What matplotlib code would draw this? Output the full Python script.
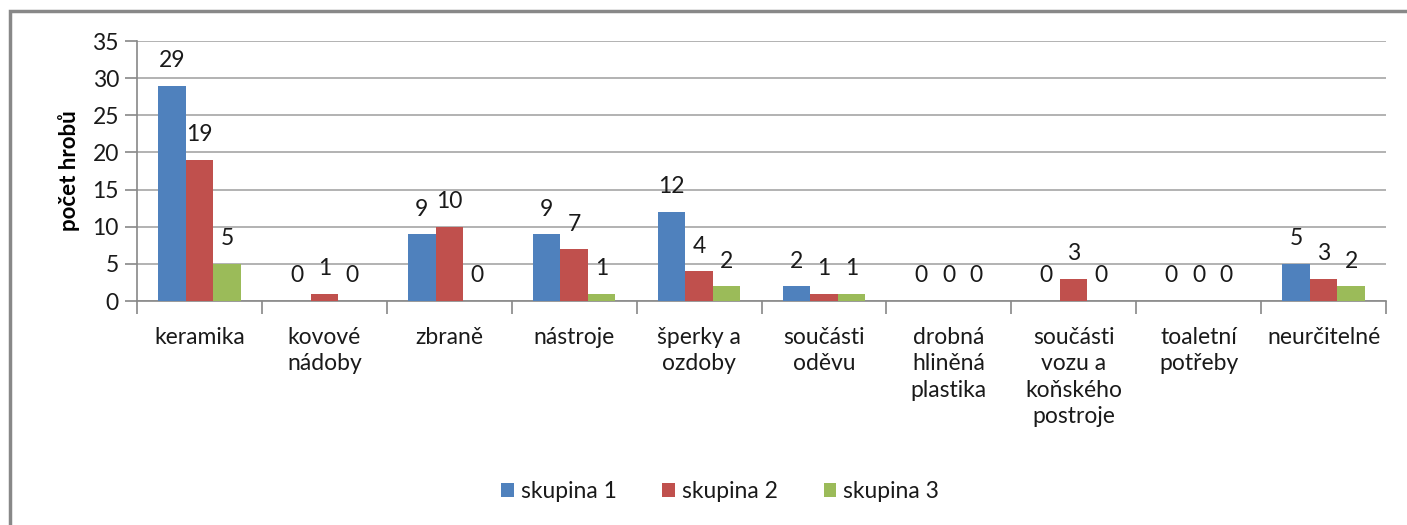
import matplotlib.pyplot as plt
import numpy as np
from matplotlib.patches import Rectangle

categories = ['keramika', 'kovové\nnádoby', 'zbraně', 'nástroje', 'šperky a\nozdoby',
              'součásti\noděvu', 'drobná\nhliněná\nplastika', 'součásti\nvozu a\nkoňského\npostroje',
              'toaletní\npotřeby', 'neurčitelné']
skupina1 = [29, 0, 9, 9, 12, 2, 0, 0, 0, 5]
skupina2 = [19, 1, 10, 7, 4, 1, 0, 3, 0, 3]
skupina3 = [5, 0, 0, 1, 2, 1, 0, 0, 0, 2]
series_names = ['skupina 1', 'skupina 2', 'skupina 3']
colors = ['#4F81BD', '#C0504D', '#9BBB59']

plt.rcParams['font.family'] = ['Lato', 'DejaVu Sans']
txt = '#1a1a1a'

fig = plt.figure(figsize=(14.07, 5.25), dpi=100)
ax = fig.add_axes([137 / 1407, 1 - 301 / 525, (1386 - 137) / 1407, 260 / 525])

# outer border
fig.patches.append(Rectangle((10 / 1407, -0.1), 1.2, 1 - 11 / 525 + 0.1, transform=fig.transFigure,
                             fill=False, edgecolor='#888888', linewidth=2.5))

x = np.arange(len(categories))
w = 0.22
for i, (vals, name) in enumerate(zip([skupina1, skupina2, skupina3], series_names)):
    pos = x + (i - 1) * w
    ax.bar(pos, vals, w, color=colors[i], label=name, zorder=3)
    for p, v in zip(pos, vals):
        ax.annotate(str(v), (p, v), xytext=(0, 18), textcoords='offset points',
                    ha='center', va='center', fontsize=16.5, color=txt)

ax.set_xlim(-0.5, len(categories) - 0.5)
ax.set_ylim(0, 35)
ax.set_yticks(range(0, 36, 5))
ax.yaxis.grid(True, color='#a6a6a6', linewidth=1.2, zorder=0)
ax.set_axisbelow(True)

ax.set_xticks(x)
ax.set_xticklabels(categories, fontsize=16.5, linespacing=1.3, va='top', color=txt)
ax.set_xticks(np.arange(-0.5, len(categories)), minor=True)
ax.tick_params(axis='x', which='major', length=0, pad=19)
ax.tick_params(axis='x', which='minor', length=9, color='#888888', width=1.2)
ax.tick_params(axis='y', length=9, color='#888888', width=1.2, labelsize=16.5, pad=4,
               labelcolor=txt)

for s in ['top', 'right']:
    ax.spines[s].set_visible(False)
for s in ['left', 'bottom']:
    ax.spines[s].set_color('#888888')
    ax.spines[s].set_linewidth(1.2)

ax.set_ylabel('počet hrobů', fontsize=16, fontweight='bold', labelpad=9, color='black')

fig.legend(loc='center', bbox_to_anchor=(720 / 1407, 1 - 492 / 525), ncol=3, frameon=False,
           fontsize=16.5, handlelength=0.55, handleheight=0.55, handletextpad=0.3,
           columnspacing=2.0, labelcolor=txt)

fig.savefig('out.png', dpi=100)
